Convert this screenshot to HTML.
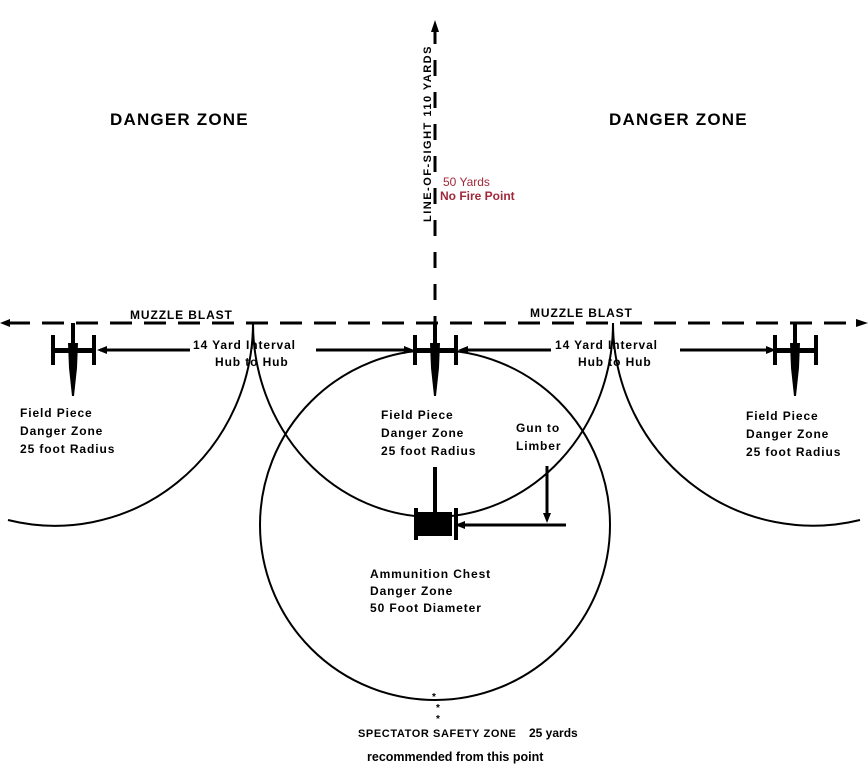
<!DOCTYPE html>
<html><head><meta charset="utf-8"><style>
html,body{margin:0;padding:0;background:#fff;}
svg{display:block;}
text{font-family:"Liberation Sans",sans-serif;font-weight:bold;fill:#000;}
.lbl{font-size:12px;letter-spacing:0.9px;}
</style></head><body>
<svg width="868" height="783" viewBox="0 0 868 783" xmlns="http://www.w3.org/2000/svg">
<g stroke="#000" fill="none">
<line x1="8" y1="323" x2="860" y2="323" stroke-width="3" stroke-dasharray="22,12"/>
<line x1="435" y1="28" x2="435" y2="322" stroke-width="3" stroke-dasharray="16,16"/>
<path d="M253,323 A198,203 0 0 1 8,520" stroke-width="2"/>
<path d="M253,323 A180,194 0 0 0 613,323" stroke-width="2"/>
<path d="M613,323 A200,203 0 0 0 860,520" stroke-width="2"/>
<circle cx="435" cy="525" r="175" stroke-width="2"/>
<line x1="100" y1="350" x2="190" y2="350" stroke-width="3"/>
<line x1="316" y1="350" x2="410" y2="350" stroke-width="3"/>
<line x1="462" y1="350" x2="551" y2="350" stroke-width="3"/>
<line x1="680" y1="350" x2="772" y2="350" stroke-width="3"/>
<line x1="456" y1="525" x2="566" y2="525" stroke-width="3"/>
<line x1="547" y1="466" x2="547" y2="518" stroke-width="3"/>
<line x1="435" y1="467" x2="435" y2="512" stroke-width="4"/>
</g>
<g fill="#000">
<polygon points="0,323 10,319 10,327"/>
<polygon points="868,323 856,319 856,327"/>
<polygon points="435,20 431,32 439,32"/>
<polygon points="97,350 107,346 107,354"/>
<polygon points="414,350 404,346 404,354"/>
<polygon points="458,350 468,346 468,354"/>
<polygon points="776,350 766,346 766,354"/>
<polygon points="455,525 465,521 465,529"/>
<polygon points="547,523 543,513 551,513"/>
<g id="g1">
<rect x="71" y="323" width="4" height="20"/>
<polygon points="68,343 78,343 77,368 74,396 72,396 69,368"/>
<rect x="52" y="348" width="42" height="5"/>
<rect x="51" y="335" width="4" height="30"/>
<rect x="92" y="335" width="4" height="30"/>
</g>
<use href="#g1" x="362"/>
<use href="#g1" x="722"/>
<rect x="418" y="512" width="34" height="24"/>
<rect x="414" y="508" width="4" height="32"/>
<rect x="454" y="508" width="4" height="32"/>
</g>
<text x="110" y="125" font-size="17" letter-spacing="1.2">DANGER ZONE</text>
<text x="609" y="125" font-size="17" letter-spacing="1.2">DANGER ZONE</text>
<text transform="translate(431,222) rotate(-90)" font-size="11" letter-spacing="1.5">LINE-OF-SIGHT  110 YARDS</text>
<text x="443" y="186" font-size="12" style="font-weight:normal;fill:#a0283a">50 Yards</text>
<text x="440" y="200" font-size="12" style="fill:#a0283a">No Fire Point</text>
<text x="130" y="319" class="lbl">MUZZLE BLAST</text>
<text x="530" y="317" class="lbl">MUZZLE BLAST</text>
<text x="193" y="349" class="lbl">14 Yard Interval</text>
<text x="215" y="366" class="lbl">Hub to Hub</text>
<text x="555" y="349" class="lbl">14 Yard Interval</text>
<text x="578" y="366" class="lbl">Hub to Hub</text>
<text x="20" y="417" class="lbl">Field Piece</text>
<text x="20" y="435" class="lbl">Danger Zone</text>
<text x="20" y="453" class="lbl">25 foot Radius</text>
<text x="381" y="419" class="lbl">Field Piece</text>
<text x="381" y="437" class="lbl">Danger Zone</text>
<text x="381" y="455" class="lbl">25 foot Radius</text>
<text x="746" y="420" class="lbl">Field Piece</text>
<text x="746" y="438" class="lbl">Danger Zone</text>
<text x="746" y="456" class="lbl">25 foot Radius</text>
<text x="516" y="432" class="lbl">Gun to</text>
<text x="516" y="450" class="lbl">Limber</text>
<text x="370" y="578" class="lbl">Ammunition Chest</text>
<text x="370" y="595" class="lbl">Danger Zone</text>
<text x="370" y="612" class="lbl">50 Foot Diameter</text>
<text x="434" y="700" font-size="10" text-anchor="middle">*</text>
<text x="438" y="711" font-size="10" text-anchor="middle">*</text>
<text x="438" y="722" font-size="10" text-anchor="middle">*</text>
<text x="358" y="737" font-size="11" letter-spacing="0.6">SPECTATOR SAFETY ZONE</text>
<text x="529" y="737" font-size="12">25 yards</text>
<text x="367" y="761" font-size="12.5">recommended from this point</text>
</svg>
</body></html>
